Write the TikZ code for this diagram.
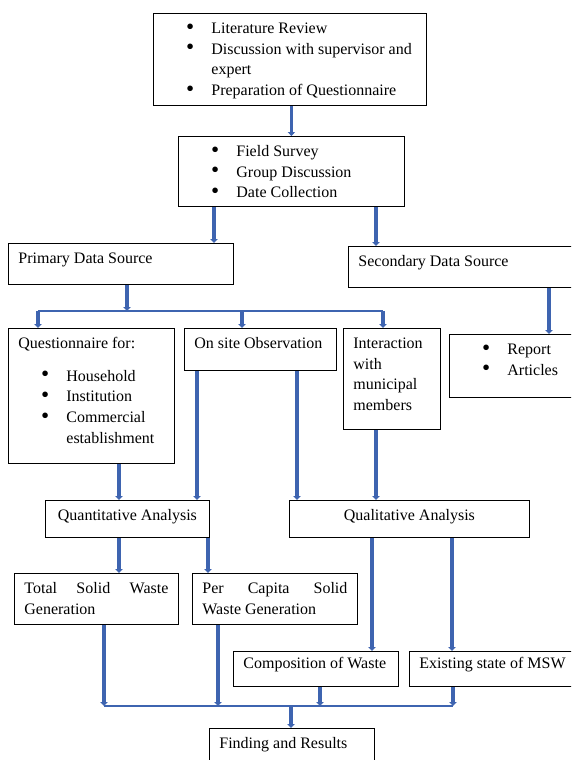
\documentclass[tikz,border=0pt]{standalone}
\usepackage{fontspec}
\usepackage{graphicx}
\setmainfont{Liberation Serif}
\usetikzlibrary{arrows.meta}
\definecolor{flowblue}{RGB}{62,100,176}

% box content: width and height in px, text hung from the top
\newcommand{\boxtext}[3]{\parbox[c][\dimexpr#2pt*3/4\relax][t]{\dimexpr#1pt*3/4-15pt\relax}{\vspace*{4.15pt}#3}}
\newcommand{\tline}[1]{\par\noindent\strut\mbox{#1}\par}
\newcommand{\bitem}[1]{\par\noindent\strut\hspace*{17pt}\makebox[19pt][l]{\smash{\raisebox{-0.6pt}{\scalebox{1.45}{\textbullet}}}}\mbox{#1}\par}
\newcommand{\bcont}[1]{\par\noindent\strut\hspace*{36pt}\mbox{#1}\par}

\begin{document}
\begin{tikzpicture}[x=0.75pt,y=-0.75pt]
\tikzstyle{stagebox}=[draw,line width=0.6pt,anchor=north west,inner xsep=7.5pt,inner ysep=0pt,font=\fontsize{12}{15.5}\selectfont]
\tikzstyle{flow}=[draw=flowblue,line width=2.3pt,-{Triangle[length=3pt,width=5.5pt]}]
\tikzstyle{bus}=[draw=flowblue,line width=1.1pt]
\useasboundingbox (0,0) rectangle (571,760);
\clip (0,0) rectangle (571,760);
% planning and data collection
\node[stagebox] (lit) at (153,13) {\boxtext{273}{92}{\bitem{Literature Review}\bitem{Discussion with supervisor and}\bcont{expert}\bitem{Preparation of Questionnaire}}};
\node[stagebox] (field) at (178,136) {\boxtext{226}{70}{\bitem{Field Survey}\bitem{Group Discussion}\bitem{Date Collection}}};
\node[stagebox] (prim) at (8,243) {\boxtext{225}{41}{\tline{Primary Data Source}}};
\node[stagebox] (sec) at (348,246) {\boxtext{240}{41}{\tline{Secondary Data Source}}};
% sources
\node[stagebox] (quest) at (8,328) {\boxtext{166}{135}{\tline{Questionnaire for:}\vspace{9pt}\bitem{Household}\bitem{Institution}\bitem{Commercial}\bcont{establishment}}};
\node[stagebox] (site) at (184,328) {\boxtext{152}{42}{\tline{On site Observation}}};
\node[stagebox] (inter) at (343,328) {\boxtext{97}{101}{\tline{Interaction}\tline{with}\tline{municipal}\tline{members}}};
\node[stagebox] (rep) at (449,334) {\boxtext{140}{63}{\bitem{Report}\bitem{Articles}}};
% analysis
\node[stagebox] (quant) at (45,500) {\boxtext{164}{37}{\tline{\makebox[\linewidth]{Quantitative Analysis}}}};
\node[stagebox] (qual) at (289,500) {\boxtext{240}{37}{\tline{\makebox[\linewidth]{Qualitative Analysis}}}};
\node[stagebox] (total) at (14,573) {\boxtext{164}{51}{\tline{\makebox[\linewidth][s]{Total Solid Waste}}\tline{Generation}}};
\node[stagebox] (capita) at (192,573) {\boxtext{165}{51}{\tline{\makebox[\linewidth][s]{Per Capita Solid}}\tline{Waste Generation}}};
\node[stagebox] (comp) at (233,651) {\boxtext{165}{35}{\vspace{-2.25pt}\tline{Composition of Waste}}};
\node[stagebox] (exist) at (409,651) {\boxtext{180}{35}{\vspace{-2.25pt}\tline{Existing state of MSW}}};
\node[stagebox] (find) at (209,728) {\boxtext{165}{45}{\tline{Finding and Results}}};
% junctions
\coordinate (split) at (127,311);
\coordinate (splitl) at (38,311);
\coordinate (splitm) at (242,311);
\coordinate (splitr) at (383,311);
\coordinate (join) at (291,706);
\coordinate (joinl) at (104,706);
\coordinate (joinr) at (453,706);
% connectors
\draw[flow] (lit.south -| field.north) -- (field.north);
\draw[flow] (field.south -| 214,0) -- (prim.north -| 214,0);
\draw[flow] (field.south -| 376,0) -- (sec.north -| 376,0);
\draw[flow] (prim.south -| split) -- (split);
\draw[bus] (splitl) -- (splitr);
\draw[flow] (splitl) -- (splitl |- quest.north);
\draw[flow] (splitm) -- (splitm |- site.north);
\draw[flow] (splitr) -- (splitr |- inter.north);
\draw[flow] (sec.south -| 549,0) -- (rep.north -| 549,0);
\draw[flow] (quest.south -| 119,0) -- (quant.north -| 119,0);
\draw[flow] (site.south -| 197,0) -- (quant.north -| 197,0);
\draw[flow,line width=3.4pt] (site.south -| 297,0) -- (qual.north -| 297,0);
\draw[flow] (inter.south -| 376,0) -- (qual.north -| 376,0);
\draw[flow] (quant.south -| 119,0) -- (total.north -| 119,0);
\draw[flow] (quant.south -| 208,0) -- (capita.north -| 208,0);
\draw[flow] (qual.south -| 372,0) -- (comp.north -| 372,0);
\draw[flow] (qual.south -| 452,0) -- (exist.north -| 452,0);
\draw[flow] (total.south -| joinl) -- (joinl);
\draw[flow] (capita.south -| 218,0) -- (join -| 218,0);
\draw[flow] (comp.south -| 320,0) -- (join -| 320,0);
\draw[flow] (exist.south -| joinr) -- (joinr);
\draw[bus] (joinl) -- (joinr);
\draw[flow] (join) -- (join |- find.north);
\end{tikzpicture}
\end{document}
